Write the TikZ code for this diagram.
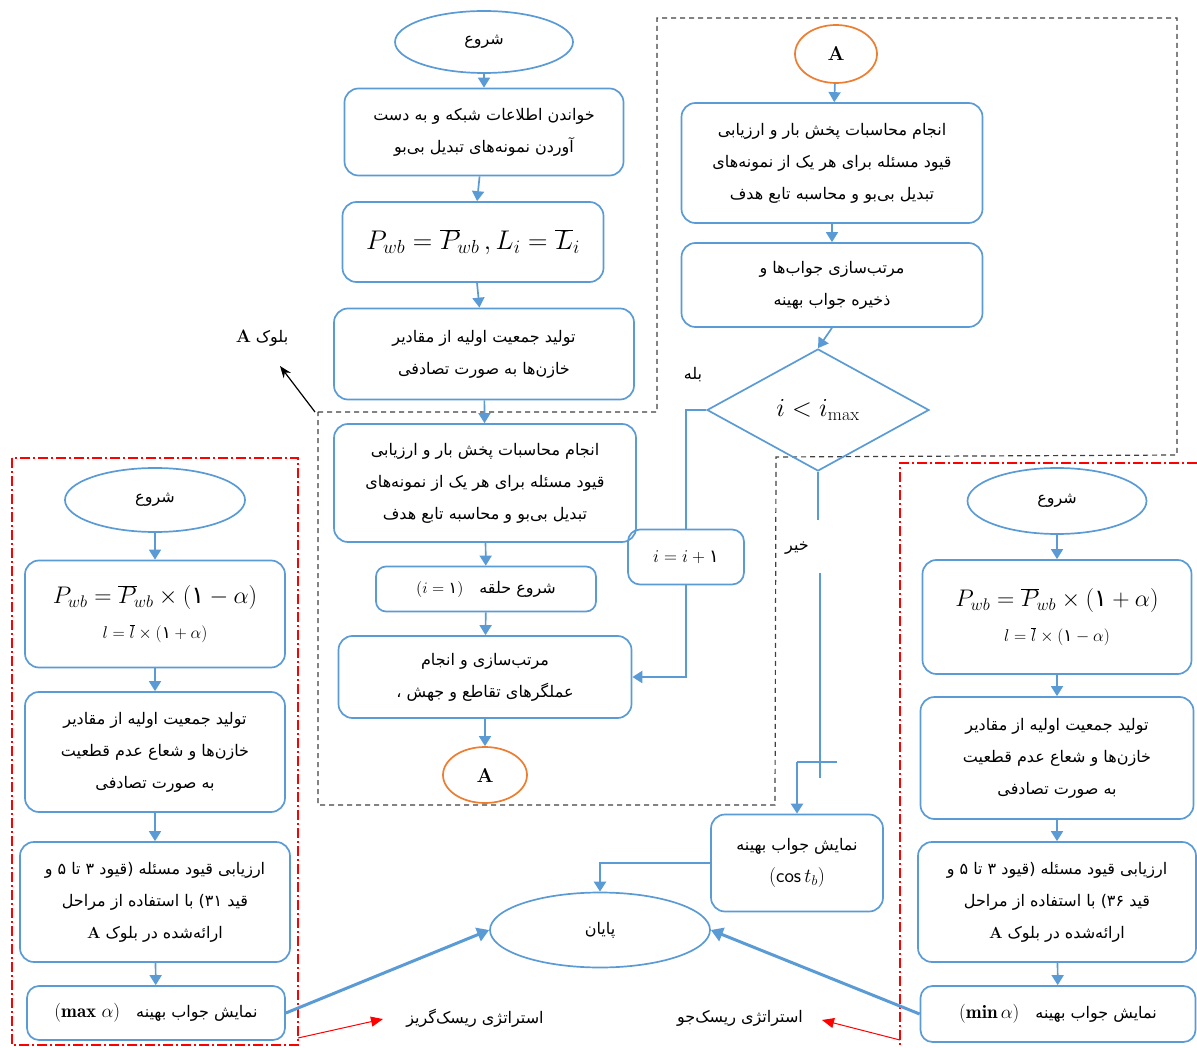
\RequirePackage{fix-cm}
\documentclass[tikz,border=0pt]{standalone}
\usepackage{fontspec}
\usetikzlibrary{shapes.geometric,arrows.meta}
\newfontfamily\arabicfont[Script=Arabic]{DejaVu Sans}
\TeXXeTstate=1
\newcommand{\fa}[1]{{\arabicfont\beginR #1\endR}}
\newcommand{\faone}{\mbox{\arabicfont ۱}}
\definecolor{flowblue}{RGB}{91,155,213}
\definecolor{floworange}{RGB}{237,125,49}

\tikzset{
  box/.style={draw=flowblue, line width=1.7pt, rounded corners=14pt, align=center,
    inner sep=0pt, font=\fontsize{16}{32}\selectfont},
  term/.style={ellipse, draw=flowblue, line width=1.7pt, inner sep=0pt,
    font=\fontsize{16}{18}\selectfont},
  conn/.style={ellipse, draw=floworange, line width=1.7pt, inner sep=0pt,
    font=\fontsize{20}{22}\selectfont\bfseries},
  flow/.style={draw=flowblue, line width=1.7pt, -{Triangle[width=12pt,length=10pt]}},
  wire/.style={draw=flowblue, line width=1.7pt},
  bigflow/.style={draw=flowblue, line width=3pt, -{Triangle[width=14pt,length=12pt]}},
  note/.style={inner sep=0pt, font=\fontsize{16}{18}\selectfont},
  blockline/.style={draw=black!75, line width=1.2pt, dash pattern=on 5pt off 4pt},
  redframe/.style={draw=red, line width=1.1pt, dash pattern=on 10pt off 3pt on 2pt off 3pt},
  redarrow/.style={draw=red, line width=1pt, -{Triangle[width=10pt,length=12pt]}},
}

\begin{document}
\begin{tikzpicture}[x=1pt,y=-1pt]
    \useasboundingbox (0,0) rectangle (1197,1048);

    % block A and the two strategy frames
    \draw [blockline] (318,412) -- (657,412) -- (657,18) -- (1177,18) -- (1177,455)
        -- (776,457) -- (775,805) -- (318,805) -- cycle;
    \draw [redframe] (12,458) rectangle (298,1045);
    \draw [redframe] (1197,463) -- (900,463) -- (900,1048);

    % main column
    \node [term, minimum width=178pt, minimum height=62pt] (st) at (484,42) {\fa{شروع}};
    \node [box, minimum width=279pt, minimum height=87pt] (rd) at (484,132)
        {\fa{خواندن اطلاعات شبکه و به دست}\\\fa{آوردن نمونه‌های تبدیل بی‌بو}};
    \node [box, minimum width=261pt, minimum height=80pt, font=\fontsize{27}{30}\selectfont] (pw) at (473,242)
        {$P_{wb}=\overline{P}_{\!wb}\,, L_i=\overline{L}_i$};
    \node [box, minimum width=300pt, minimum height=91pt] (ini) at (484,354)
        {\fa{تولید جمعیت اولیه از مقادیر}\\\fa{خازن‌ها به صورت تصادفی}};
    \node [box, minimum width=302pt, minimum height=118pt] (lf) at (485,483)
        {\fa{انجام محاسبات پخش بار و ارزیابی}\\\fa{قیود مسئله برای هر یک از نمونه‌های}\\\fa{تبدیل بی‌بو و محاسبه تابع هدف}};
    \node [box, rounded corners=10pt, minimum width=220pt, minimum height=45pt] (lp) at (486,589)
        {$(i=\faone)$\quad\fa{شروع حلقه}};
    \node [box, minimum width=293pt, minimum height=82pt] (srt) at (485,677)
        {\fa{مرتب‌سازی و انجام}\\\fa{عملگرهای تقاطع و جهش ،}};
    \node [conn, minimum width=84pt, minimum height=56pt] (ca) at (485,775) {A};

    % inside block A, right part
    \node [conn, minimum width=82pt, minimum height=58pt] (cb) at (836,54) {A};
    \node [box, minimum width=301pt, minimum height=120pt] (rlf) at (832,163)
        {\fa{انجام محاسبات پخش بار و ارزیابی}\\\fa{قیود مسئله برای هر یک از نمونه‌های}\\\fa{تبدیل بی‌بو و محاسبه تابع هدف}};
    \node [box, minimum width=301pt, minimum height=84pt] (rsrt) at (832,285)
        {\fa{مرتب‌سازی جواب‌ها و}\\\fa{ذخیره جواب بهینه}};
    \node [diamond, draw=flowblue, line width=1.7pt, inner sep=0pt, minimum width=222pt,
        minimum height=122pt, font=\fontsize{26}{28}\selectfont] (dia) at (818,410) {$i<i_{\max}$};
    \node [box, rounded corners=12pt, minimum width=116pt, minimum height=55pt,
        font=\fontsize{18}{20}\selectfont] (inc) at (686,557) {$i=i+\faone$};
    \node [box, minimum width=172pt, minimum height=97pt] (show) at (797,863)
        {\fa{نمایش جواب بهینه}\\{\fontsize{20}{22}\selectfont(\textsf{cos}\,$t_b$)}};
    \node [term, minimum width=220pt, minimum height=75pt] (fin) at (600,930) {\fa{پایان}};

    % left column (risk averse)
    \node [term, minimum width=180pt, minimum height=64pt] (lst) at (155,500) {\fa{شروع}};
    \node [box, minimum width=260pt, minimum height=107pt, font=\fontsize{24}{26}\selectfont] (lpw) at (155,614)
        {$P_{wb}=\overline{P}_{\!wb}\times(\faone-\alpha)$\\[9pt]
         {\fontsize{17}{19}\selectfont$l=\overline{l}\times(\faone+\alpha)$}};
    \node [box, minimum width=260pt, minimum height=120pt] (lini) at (155,752)
        {\fa{تولید جمعیت اولیه از مقادیر}\\\fa{خازن‌ها و شعاع عدم قطعیت}\\\fa{به صورت تصادفی}};
    \node [box, minimum width=270pt, minimum height=120pt] (lev) at (155,902)
        {\fa{ارزیابی قیود مسئله (قیود ۳ تا ۵ و}\\\fa{قید ۳۱) با استفاده از مراحل}\\\textbf{A}~\fa{ارائه‌شده در بلوک}};
    \node [box, rounded corners=12pt, minimum width=258pt, minimum height=54pt] (lres) at (156,1013)
        {{\fontsize{19}{20}\selectfont$(\mathbf{max}\;\alpha)$}\quad\fa{نمایش جواب بهینه}};

    % right column (risk seeking)
    \node [term, minimum width=179pt, minimum height=66pt] (rst) at (1057,501) {\fa{شروع}};
    \node [box, minimum width=269pt, minimum height=114pt, font=\fontsize{24}{26}\selectfont] (rpw) at (1057,617)
        {$P_{wb}=\overline{P}_{\!wb}\times(\faone+\alpha)$\\[9pt]
         {\fontsize{17}{19}\selectfont$l=\overline{l}\times(\faone-\alpha)$}};
    \node [box, minimum width=273pt, minimum height=122pt] (rini) at (1057,758)
        {\fa{تولید جمعیت اولیه از مقادیر}\\\fa{خازن‌ها و شعاع عدم قطعیت}\\\fa{به صورت تصادفی}};
    \node [box, minimum width=278pt, minimum height=120pt] (rev) at (1057,902)
        {\fa{ارزیابی قیود مسئله (قیود ۳ تا ۵ و}\\\fa{قید ۳۶) با استفاده از مراحل}\\\textbf{A}~\fa{ارائه‌شده در بلوک}};
    \node [box, rounded corners=12pt, minimum width=275pt, minimum height=56pt] (rres) at (1058,1014)
        {{\fontsize{19}{20}\selectfont$(\mathbf{min}\,\alpha)$}\quad\fa{نمایش جواب بهینه}};

    % labels
    \node [note] (blk) at (262,338) {{\fontsize{18}{20}\selectfont\textbf{A}}~\fa{بلوک}};
    \node [note] (yes) at (693,375) {\fa{بله}};
    \node [note] (no) at (797,548) {\fa{خیر}};
    \node [note] (avr) at (475,1018) {\fa{استراتژی ریسک‌گریز}};
    \node [note] (skr) at (740,1018) {\fa{استراتژی ریسک‌جو}};

    \coordinate (corner) at (315,412);
    \coordinate (blkend) at (280,366);
    \coordinate (nA) at (818,520);
    \coordinate (nB) at (820,573);
    \coordinate (nC) at (820,778);
    \coordinate (tL) at (797,762);
    \coordinate (tR) at (837,762);
    \coordinate (ra) at (298,1038);
    \coordinate (rb) at (383,1019);
    \coordinate (rc) at (900,1040);
    \coordinate (rd2) at (822,1020);

    % connectors
    \draw [flow] (st) -- (rd);
    \draw [flow] (rd) -- (pw);
    \draw [flow] (pw) -- (ini);
    \draw [flow] (ini) -- (lf);
    \draw [flow] (lf) -- (lp);
    \draw [flow] (lp) -- (srt);
    \draw [flow] (srt) -- (ca);

    \draw [flow] (cb) -- (rlf);
    \draw [flow] (rlf) -- (rsrt);
    \draw [flow] (rsrt.south) -- (dia.north);
    \draw [wire] (dia.west) -| (inc.north);
    \draw [flow, line width=2.4pt] (inc.south) |- (srt.east);

    \draw [wire, line width=2.4pt] (dia.south) -- (nA);
    \draw [wire, line width=2.4pt] (nB) -- (nC);
    \draw [wire, line width=2.4pt] (tL) -- (tR);
    \draw [flow, line width=2.4pt] (tL) -- (tL |- show.north);
    \draw [flow, line width=2.4pt] (show.west) -| (fin.north);

    \draw [flow] (lst) -- (lpw);
    \draw [flow] (lpw) -- (lini);
    \draw [flow] (lini) -- (lev);
    \draw [flow] (lev) -- (lres);

    \draw [flow] (rst) -- (rpw);
    \draw [flow] (rpw) -- (rini);
    \draw [flow] (rini) -- (rev);
    \draw [flow] (rev) -- (rres);

    \draw [bigflow] (lres.east) -- (fin.west);
    \draw [bigflow] (rres.west) -- (fin.east);

    \draw [-{Stealth[length=12pt,width=9pt]}, line width=1.2pt] (corner) -- (blkend);
    \draw [redarrow] (ra) -- (rb);
    \draw [redarrow] (rc) -- (rd2);
\end{tikzpicture}
\end{document}
